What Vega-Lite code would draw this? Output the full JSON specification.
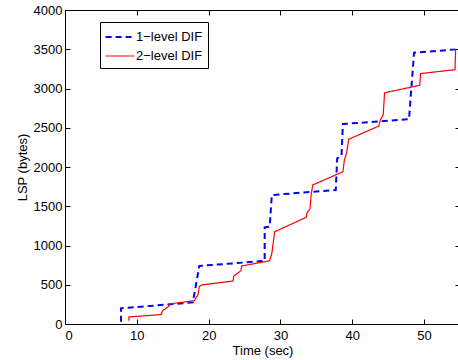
{
  "$schema": "https://vega.github.io/schema/vega-lite/v6.json",
  "width": 395,
  "height": 314,
  "autosize": {"type": "none"},
  "padding": {"left": 65, "top": 10, "right": 0, "bottom": 36},
  "background": "white",
  "config": {
    "font": "Liberation Sans",
    "view": {"stroke": "black", "strokeWidth": 1},
    "axis": {
      "grid": false,
      "domainColor": "black",
      "tickColor": "black",
      "tickSize": -5,
      "labelColor": "black",
      "titleColor": "black",
      "labelFontSize": 13,
      "titleFontSize": 13,
      "titleFontWeight": "normal",
      "labelFont": "Liberation Sans",
      "titleFont": "Liberation Sans"
    },
    "legend": {
      "orient": "none",
      "legendX": 35,
      "legendY": 12,
      "strokeColor": "black",
      "fillColor": "white",
      "padding": 5,
      "cornerRadius": 0,
      "symbolType": "M-1.6,0H1.6",
      "symbolSize": 324,
      "symbolOffset": 5,
      "labelFontSize": 13,
      "labelFont": "Liberation Sans",
      "labelColor": "black",
      "rowPadding": 2,
      "labelOffset": 6
    }
  },
  "datasets": {
    "lines": [
      {"series": "1−level DIF", "order": 1, "t": 7.8, "v": 30},
      {"series": "1−level DIF", "order": 2, "t": 7.8, "v": 200},
      {"series": "1−level DIF", "order": 3, "t": 17.8, "v": 275},
      {"series": "1−level DIF", "order": 4, "t": 18.7, "v": 740},
      {"series": "1−level DIF", "order": 5, "t": 27.8, "v": 803},
      {"series": "1−level DIF", "order": 6, "t": 27.8, "v": 1230},
      {"series": "1−level DIF", "order": 7, "t": 28.5, "v": 1240},
      {"series": "1−level DIF", "order": 8, "t": 28.8, "v": 1643},
      {"series": "1−level DIF", "order": 9, "t": 37.7, "v": 1707},
      {"series": "1−level DIF", "order": 10, "t": 37.9, "v": 2110},
      {"series": "1−level DIF", "order": 11, "t": 38.5, "v": 2140},
      {"series": "1−level DIF", "order": 12, "t": 38.7, "v": 2548},
      {"series": "1−level DIF", "order": 13, "t": 47.9, "v": 2608},
      {"series": "1−level DIF", "order": 14, "t": 48.6, "v": 3455},
      {"series": "1−level DIF", "order": 15, "t": 54.4, "v": 3499},
      {"series": "1−level DIF", "order": 16, "t": 55, "v": 3510},
      {"series": "2−level DIF", "order": 1, "t": 8.9, "v": 40},
      {"series": "2−level DIF", "order": 2, "t": 8.9, "v": 90},
      {"series": "2−level DIF", "order": 3, "t": 13.4, "v": 120},
      {"series": "2−level DIF", "order": 4, "t": 13.6, "v": 170},
      {"series": "2−level DIF", "order": 5, "t": 14.5, "v": 229},
      {"series": "2−level DIF", "order": 6, "t": 14.5, "v": 255},
      {"series": "2−level DIF", "order": 7, "t": 18.0, "v": 297},
      {"series": "2−level DIF", "order": 8, "t": 18.5, "v": 370},
      {"series": "2−level DIF", "order": 9, "t": 18.7, "v": 475},
      {"series": "2−level DIF", "order": 10, "t": 19.0, "v": 497},
      {"series": "2−level DIF", "order": 11, "t": 23.4, "v": 548},
      {"series": "2−level DIF", "order": 12, "t": 23.5, "v": 611},
      {"series": "2−level DIF", "order": 13, "t": 24.5, "v": 679},
      {"series": "2−level DIF", "order": 14, "t": 24.6, "v": 739},
      {"series": "2−level DIF", "order": 15, "t": 28.5, "v": 806},
      {"series": "2−level DIF", "order": 16, "t": 28.8, "v": 900},
      {"series": "2−level DIF", "order": 17, "t": 29.2, "v": 1176},
      {"series": "2−level DIF", "order": 18, "t": 33.6, "v": 1359},
      {"series": "2−level DIF", "order": 19, "t": 33.7, "v": 1418},
      {"series": "2−level DIF", "order": 20, "t": 34.1, "v": 1461},
      {"series": "2−level DIF", "order": 21, "t": 34.3, "v": 1665},
      {"series": "2−level DIF", "order": 22, "t": 34.5, "v": 1771},
      {"series": "2−level DIF", "order": 23, "t": 38.7, "v": 1940},
      {"series": "2−level DIF", "order": 24, "t": 38.9, "v": 2089},
      {"series": "2−level DIF", "order": 25, "t": 39.2, "v": 2175},
      {"series": "2−level DIF", "order": 26, "t": 39.5, "v": 2353},
      {"series": "2−level DIF", "order": 27, "t": 43.7, "v": 2522},
      {"series": "2−level DIF", "order": 28, "t": 43.9, "v": 2599},
      {"series": "2−level DIF", "order": 29, "t": 44.3, "v": 2660},
      {"series": "2−level DIF", "order": 30, "t": 44.5, "v": 2946},
      {"series": "2−level DIF", "order": 31, "t": 49.4, "v": 3040},
      {"series": "2−level DIF", "order": 32, "t": 49.5, "v": 3190},
      {"series": "2−level DIF", "order": 33, "t": 54.3, "v": 3240},
      {"series": "2−level DIF", "order": 34, "t": 54.4, "v": 3500}
    ]
  },
  "resolve": {"axis": {"x": "independent", "y": "independent"}},
  "layer": [
    {
      "data": {"name": "lines"},
      "mark": {"type": "line", "clip": true},
      "encoding": {
        "x": {
          "field": "t", "type": "quantitative",
          "scale": {"domain": [0, 55], "nice": false, "zero": false},
          "axis": {"values": [0, 10, 20, 30, 40, 50], "format": "d", "title": "Time (sec)", "titlePadding": 2, "labelPadding": 10}
        },
        "y": {
          "field": "v", "type": "quantitative",
          "scale": {"domain": [0, 4000], "nice": false},
          "axis": {"values": [0, 500, 1000, 1500, 2000, 2500, 3000, 3500, 4000], "format": "d", "title": "LSP (bytes)", "titlePadding": 4, "labelPadding": 8}
        },
        "order": {"field": "order", "type": "quantitative"},
        "color": {
          "field": "series", "type": "nominal",
          "scale": {"domain": ["1−level DIF", "2−level DIF"], "range": ["#0000ff", "#ff0000"]},
          "legend": {"title": null}
        },
        "strokeDash": {
          "field": "series", "type": "nominal",
          "scale": {"domain": ["1−level DIF", "2−level DIF"], "range": [[6, 4], [1, 0]]},
          "legend": {"title": null}
        },
        "strokeWidth": {
          "field": "series", "type": "nominal",
          "scale": {"domain": ["1−level DIF", "2−level DIF"], "range": [2, 1.2]},
          "legend": {"title": null}
        }
      }
    },
    {
      "data": {"name": "lines"},
      "mark": {"type": "point", "opacity": 0},
      "encoding": {
        "x": {
          "field": "t", "type": "quantitative",
          "axis": {"orient": "top", "values": [0, 10, 20, 30, 40, 50], "labels": false, "title": null}
        },
        "y": {
          "field": "v", "type": "quantitative",
          "axis": {"orient": "right", "values": [0, 500, 1000, 1500, 2000, 2500, 3000, 3500, 4000], "labels": false, "title": null}
        }
      }
    }
  ]
}
